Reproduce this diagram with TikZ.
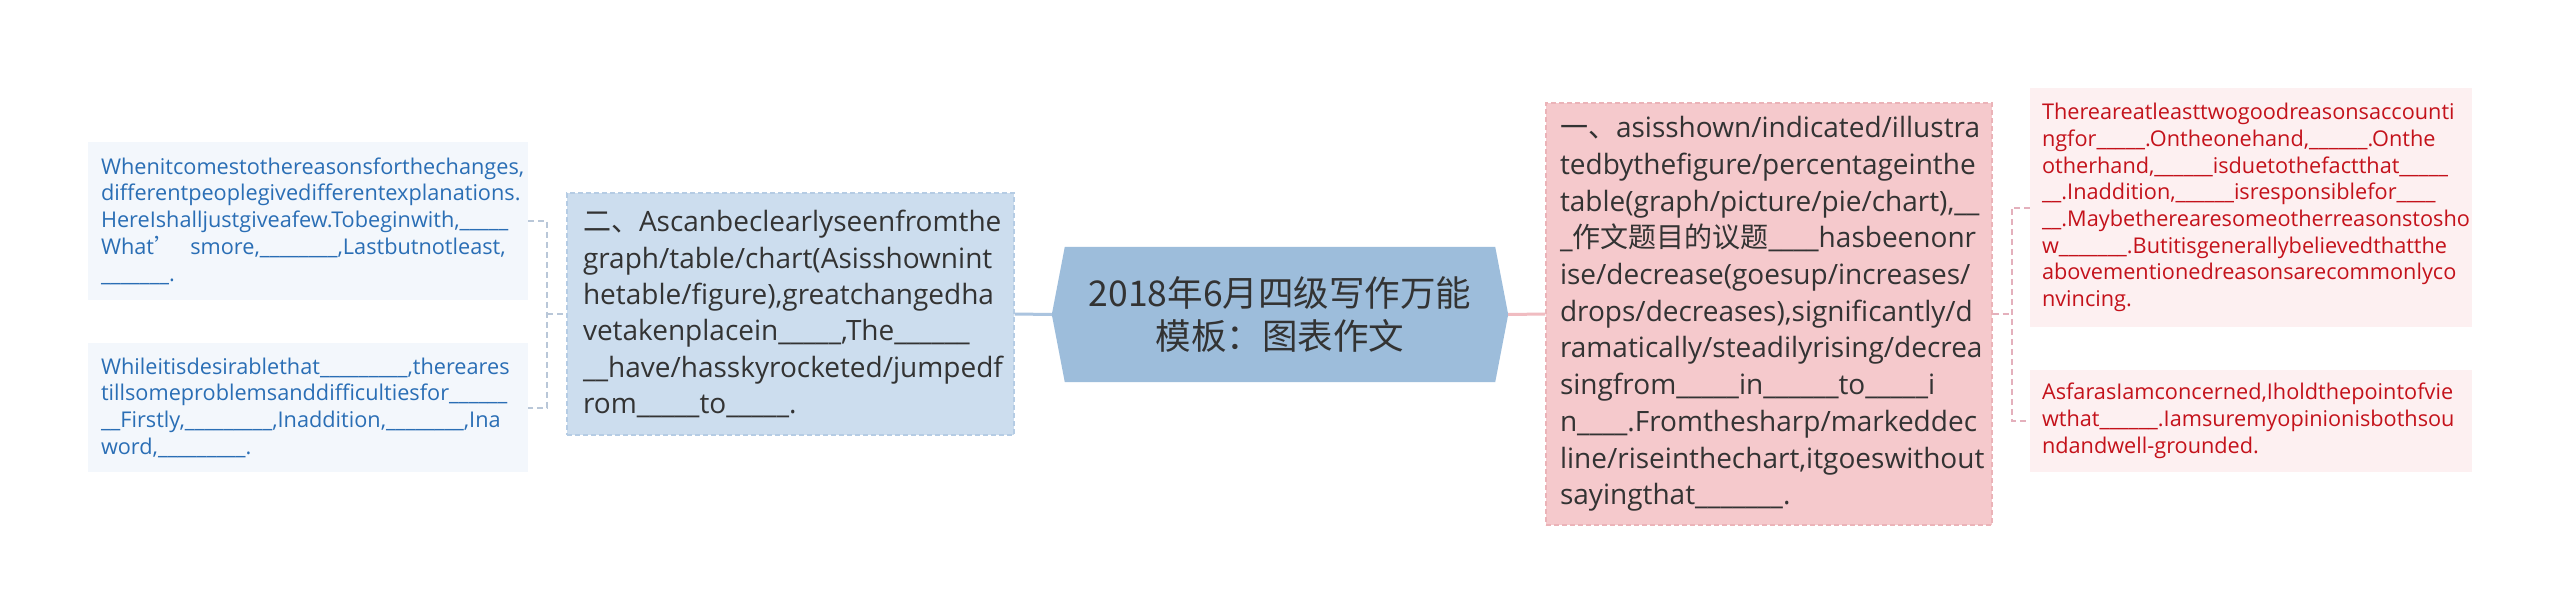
\documentclass[tikz,border=0pt]{standalone}
\usepackage{fontspec}
\setmainfont{Open Sans}
\newfontfamily\cjk{Noto Sans CJK SC}
\usetikzlibrary{backgrounds}
\ExplSyntaxOn
\cs_new:Npn \myblank #1 {\prg_replicate:nn{#1}{\_}}
\ExplSyntaxOff
\definecolor{leafB}{HTML}{F3F7FC}
\definecolor{leafBtext}{HTML}{2A6EB5}
\definecolor{midB}{HTML}{CCDDEE}
\definecolor{midBline}{HTML}{B5CCE4}
\definecolor{rootB}{HTML}{9DBDDB}
\definecolor{bigR}{HTML}{F5C9CC}
\definecolor{bigRline}{HTML}{EBB3B8}
\definecolor{leafR}{HTML}{FDF0F1}
\definecolor{leafRtext}{HTML}{C4121B}
\definecolor{connB}{HTML}{B9C7D8}
\definecolor{connBsolid}{HTML}{ABC4DF}
\definecolor{connR}{HTML}{F0BCC1}
\definecolor{connRd}{HTML}{E4B0BC}
\definecolor{txt}{HTML}{333333}
\tikzset{
  leafbox/.style={fill=leafB, text=leafBtext, font=\fontsize{21.7}{26.7}\selectfont, align=left, inner xsep=13pt, inner ysep=0pt},
  leafred/.style={fill=leafR, text=leafRtext, font=\fontsize{21.7}{26.7}\selectfont, align=left, inner xsep=12pt, inner ysep=0pt},
  midbox/.style={fill=midB, draw=midBline, line width=1.2pt, dash pattern=on 5pt off 3pt, text=txt, font=\fontsize{28}{36.3}\selectfont, align=left, inner xsep=16pt, inner ysep=0pt},
  bigbox/.style={fill=bigR, draw=bigRline, line width=1.2pt, dash pattern=on 5pt off 3pt, text=txt, font=\fontsize{28}{36.7}\selectfont, align=left, inner xsep=14pt, inner ysep=0pt},
  rootbox/.style={text=txt, font=\cjk\fontsize{35.5}{43}\selectfont, align=center, inner sep=0pt},
  connBd/.style={draw=connB, line width=2pt, dash pattern=on 6pt off 4pt},
  connRdash/.style={draw=connRd, line width=2pt, dash pattern=on 6pt off 4pt},
  connBs/.style={draw=connBsolid, line width=3pt},
  connRs/.style={draw=connR, line width=3pt}
}
\begin{document}
\begin{tikzpicture}[x=1pt,y=-1pt]
\begin{scope}[on background layer]
\fill[white] (0,0) rectangle (2560,615);
\end{scope}
\useasboundingbox (0,0) rectangle (2560,615);

\node[leafbox, text width=414pt, minimum height=158pt] (lt) at (308,221) {Whenitcomestothereasonsforthechanges,\\ differentpeoplegivedifferentexplanations.\\ HereIshalljustgiveafew.Tobeginwith,\myblank{5}\\ What{\cjk ’}\ \ smore,\myblank{8},Lastbutnotleast,\\ \myblank{7}.};

\node[leafbox, text width=414pt, minimum height=129pt] (lb) at (308,407.5) {Whileitisdesirablethat\myblank{9},thereares\\ tillsomeproblemsanddifficultiesfor\myblank{6}\\ \myblank{2}Firstly,\myblank{9},Inaddition,\myblank{8},Ina\\ word,\myblank{9}.};

\node[midbox, text width=415pt, minimum height=242pt] (mid) at (790.5,314) {{\cjk 二、}Ascanbeclearlyseenfromthe\\ graph/table/chart(Asisshownint\\ hetable/figure),greatchangedha\\ vetakenplacein\myblank{5},The\myblank{6}\\ \myblank{2}have/hasskyrocketed/jumpedf\\ rom\myblank{5}to\myblank{5}.};

\node[rootbox, minimum width=456pt, minimum height=135pt] (root) at (1280,314.5) {2018年6月四级写作万能\\ 模板：图表作文};
\begin{scope}[on background layer]
\fill[rootB] ([xshift=13pt]root.north west) -- ([xshift=-13pt]root.north east) -- (root.east) -- ([xshift=-13pt]root.south east) -- ([xshift=13pt]root.south west) -- (root.west) -- cycle;
\end{scope}

\node[bigbox, text width=418pt, minimum height=422pt] (big) at (1769,314) {{\cjk 一、}asisshown/indicated/illustra\\ tedbythefigure/percentageinthe\\ table(graph/picture/pie/chart),\myblank{2}\\ \myblank{1}{\cjk 作文题目的议题}\myblank{4}hasbeenonr\\ ise/decrease(goesup/increases/\\ drops/decreases),significantly/d\\ ramatically/steadilyrising/decrea\\ singfrom\myblank{5}in\myblank{6}to\myblank{5}i\\ n\myblank{4}.Fromthesharp/markeddec\\ line/riseinthechart,itgoeswithout\\ sayingthat\myblank{7}.};

\node[leafred, text width=418pt, minimum height=239pt] (rt) at (2251,207.5) {Thereareatleasttwogoodreasonsaccounti\\ ngfor\myblank{5}.Ontheonehand,\myblank{6}.Onthe\\ otherhand,\myblank{6}isduetothefactthat\myblank{5}\\ \myblank{2}.Inaddition,\myblank{6}isresponsiblefor\myblank{4}\\ \myblank{2}.Maybetherearesomeotherreasonstosho\\ w\myblank{7}.Butitisgenerallybelievedthatthe\\ abovementionedreasonsarecommonlyco\\ nvincing.};

\node[leafred, text width=418pt, minimum height=102pt] (rb) at (2251,421) {AsfarasIamconcerned,Iholdthepointofvie\\ wthat\myblank{6}.Iamsuremyopinionisbothsou\\ ndandwell-grounded.};

\path (mid.west) ++(-19,0) coordinate (jl);
\path (big.east) ++(19,0) coordinate (jr);
\draw[connBd] (lt.east) -| (jl) |- (lb.east);
\draw[connBd] (jl) -- (mid.west);
\draw[connRdash] (rt.west) -| (jr) |- (rb.west);
\draw[connRdash] (big.east) -- (jr);
\draw[connBs] (mid.east) -- (root.west);
\draw[connRs] (root.east) -- (big.west);
\end{tikzpicture}
\end{document}
